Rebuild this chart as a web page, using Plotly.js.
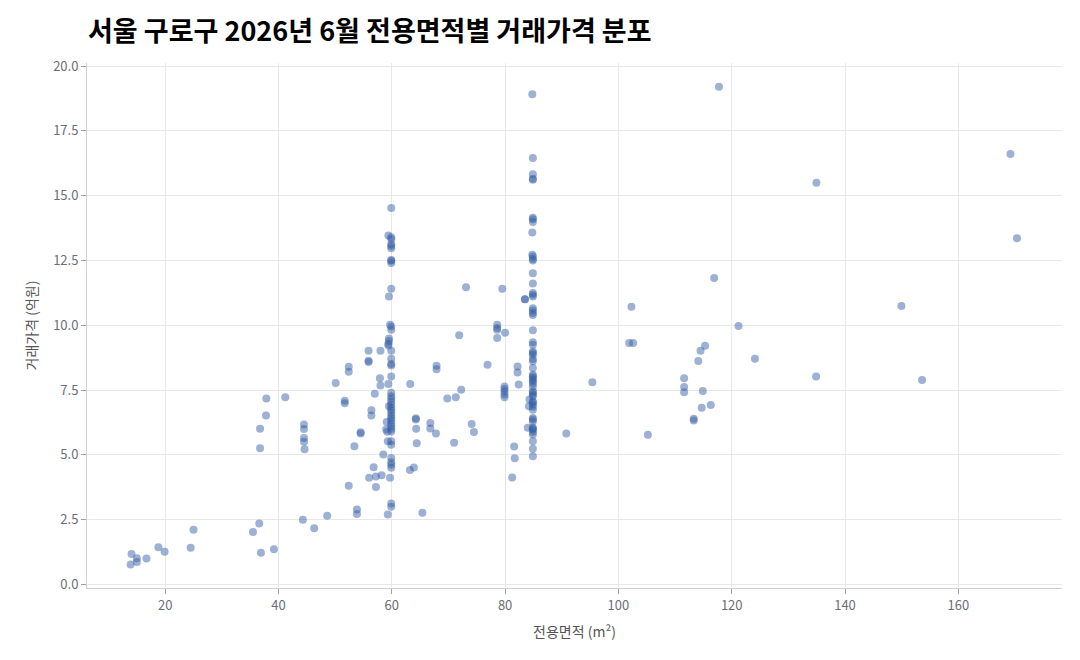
<!DOCTYPE html>
<html>
<head>
<meta charset="utf-8">
<script src="https://cdn.plot.ly/plotly-3.0.1.min.js"></script>
<style>html,body{margin:0;padding:0;background:#fff;}#chart{width:1080px;height:660px;}</style>
</head>
<body>
<div id="chart"></div>
<script>
// 60㎡ column
const col60Area = [59.9,59.4,59.9,59.9,59.9,59.9,59.9,59.9,59.9,59.9,59.9,59.5,59.7,59.9,59.9,59.5,59.5,59.4,59.4,59.9,59.9,59.9,59.9,59.9,59.4,59.9,59.9,59.9,59.9,59.9,59.5,59.9,59.9,59.9,59.9,59.9,59.9,59.1,59.9,59.9,59.9,59.0,59.9,59.2,59.3,59.9,59.9,59.9,59.9,59.9,59.9,59.7,59.9,59.9,59.3];
const col60Price = [14.52,13.46,13.40,13.32,13.13,13.06,12.97,12.52,12.49,12.40,11.41,11.11,10.02,9.95,9.83,9.49,9.39,9.29,9.22,9.02,8.71,8.50,8.45,8.02,7.73,7.39,7.26,7.16,7.05,6.93,6.87,6.82,6.72,6.61,6.51,6.41,6.31,6.27,6.20,6.10,6.00,5.98,5.90,5.89,5.52,5.52,5.39,4.88,4.71,4.62,4.50,4.11,3.12,3.00,2.70];
// 85㎡ column
const col85Area = [84.8,84.9,84.9,84.9,84.9,84.9,84.9,84.9,84.8,84.8,84.9,84.9,84.9,84.9,84.9,84.9,84.9,84.9,84.9,84.9,84.9,84.9,84.9,84.9,84.9,84.9,84.9,84.9,84.9,84.9,84.9,84.9,84.9,84.9,84.9,84.9,84.9,84.9,84.9,84.9,84.9,84.9,84.3,84.9,84.9,84.9,84.2,84.9,84.9,84.9,84.9,84.9,84.0,84.9,84.9,84.9,84.9,84.9,84.9,84.9,84.9];
const col85Price = [18.91,16.45,15.83,15.65,15.61,14.15,14.09,13.98,13.58,12.72,12.65,12.56,12.50,12.01,11.61,11.24,11.18,11.11,10.66,10.57,10.47,10.40,9.81,9.34,9.25,8.99,8.93,8.86,8.70,8.61,8.35,8.09,8.03,7.96,7.90,7.83,7.75,7.64,7.45,7.39,7.32,7.26,7.13,7.06,7.03,6.94,6.87,6.85,6.74,6.42,6.36,6.29,6.04,6.04,6.01,5.97,5.88,5.78,5.52,5.23,4.94];
// other transactions
const otherArea = [13.9,14.06,15.0,15.0,16.7,18.8,19.9,24.5,25.0,35.5,36.6,36.9,39.2,36.75,36.75,37.8,37.85,41.2,44.5,44.5,44.5,44.5,44.6,44.3,46.3,48.6,50.1,51.7,51.7,52.4,52.4,52.4,53.4,53.85,53.85,54.5,54.5,55.9,55.9,55.9,56.4,56.4,56.0,56.8,57.0,57.2,57.2,57.9,58.0,58.0,58.2,58.5,63.25,63.2,63.9,64.25,64.25,64.3,64.4,65.4,66.8,66.8,67.8,67.9,67.9,69.8,71.0,71.3,71.9,72.25,73.1,74.1,74.5,76.9,78.6,78.6,78.6,78.6,79.5,80.0,79.9,79.9,79.9,79.9,79.9,81.25,81.6,81.7,82.2,82.2,82.4,83.5,83.5,90.8,95.4,101.9,102.6,102.3,105.2,111.6,111.6,111.6,113.3,113.3,114.1,114.5,114.7,114.9,115.3,116.3,116.9,117.75,121.2,124.1,134.9,134.95,149.95,153.6,169.2,170.35];
const otherPrice = [0.77,1.17,1.01,0.86,1.0,1.43,1.26,1.41,2.11,2.02,2.35,1.22,1.36,6.01,5.25,6.52,7.17,7.22,6.17,6.0,5.65,5.5,5.21,2.49,2.17,2.65,7.77,7.09,6.99,8.4,8.21,3.81,5.33,2.89,2.72,5.87,5.82,9.02,8.63,8.58,6.72,6.52,4.11,4.52,7.36,4.16,3.76,7.95,9.02,7.67,4.21,5.01,7.73,4.41,4.51,6.41,6.36,6.01,5.45,2.76,6.23,6.02,5.82,8.44,8.30,7.17,5.47,7.22,9.61,7.51,11.47,6.19,5.88,8.48,10.02,9.89,9.83,9.51,11.41,9.71,7.64,7.54,7.44,7.33,7.22,4.12,5.32,4.87,8.41,8.18,7.71,11.0,11.0,5.82,7.8,9.31,9.31,10.71,5.77,7.95,7.62,7.41,6.39,6.32,8.62,9.02,6.82,7.46,9.21,6.92,11.82,19.2,9.97,8.71,8.02,15.5,10.74,7.89,16.61,13.36];

const yTicks = [0, 2.5, 5, 7.5, 10, 12.5, 15, 17.5, 20];
const xTicks = [20, 40, 60, 80, 100, 120, 140, 160];

const area = otherArea.concat(col60Area, col85Area);
const price = otherPrice.concat(col60Price, col85Price);

const FONT = '"Noto Sans CJK KR", "Noto Sans", sans-serif';

const trace = {
  type: 'scatter',
  mode: 'markers',
  x: area,
  y: price,
  marker: {size: 8, color: 'rgba(50,92,165,0.48)', line: {width: 0}},
  hoverinfo: 'x+y'
};

const layout = {
  width: 1080, height: 660,
  paper_bgcolor: '#ffffff', plot_bgcolor: '#ffffff',
  margin: {l: 87, r: 18, t: 63, b: 72},
  showlegend: false,
  font: {family: FONT, color: '#555555', size: 13},
  title: {
    text: '<b>서울 구로구 2026년 6월 전용면적별 거래가격 분포</b>',
    x: 88/1080, xanchor: 'left', xref: 'container',
    y: 1 - 32/660, yanchor: 'middle', yref: 'container',
    font: {family: FONT, size: 27, color: '#000000'}
  },
  xaxis: {
    range: [6.2, 178.3],
    tickvals: xTicks,
    ticktext: xTicks.map(String),
    showgrid: true, gridcolor: '#e8e8e8', gridwidth: 1,
    zeroline: false,
    showline: true, linecolor: '#cfcfd6', linewidth: 1,
    ticks: 'outside', ticklen: 5, tickcolor: '#9aa0ad', tickwidth: 1,
    tickfont: {family: FONT, size: 13, color: '#6a6e78'},
    title: {text: '전용면적 (m²)', font: {family: FONT, size: 14, color: '#555555'}, standoff: 14}
  },
  yaxis: {
    range: [-0.14, 20.12],
    tickvals: yTicks,
    ticktext: yTicks.map(v => v.toFixed(1)),
    showgrid: true, gridcolor: '#e8e8e8', gridwidth: 1,
    zeroline: false,
    showline: true, linecolor: '#cfcfd6', linewidth: 1,
    ticks: 'outside', ticklen: 5, tickcolor: '#9aa0ad', tickwidth: 1,
    tickfont: {family: FONT, size: 13, color: '#6a6e78'},
    title: {text: '거래가격 (억원)', font: {family: FONT, size: 14, color: '#555555'}, standoff: 12}
  }
};

Plotly.newPlot('chart', [trace], layout, {displayModeBar: false, staticPlot: true});
</script>
</body>
</html>
